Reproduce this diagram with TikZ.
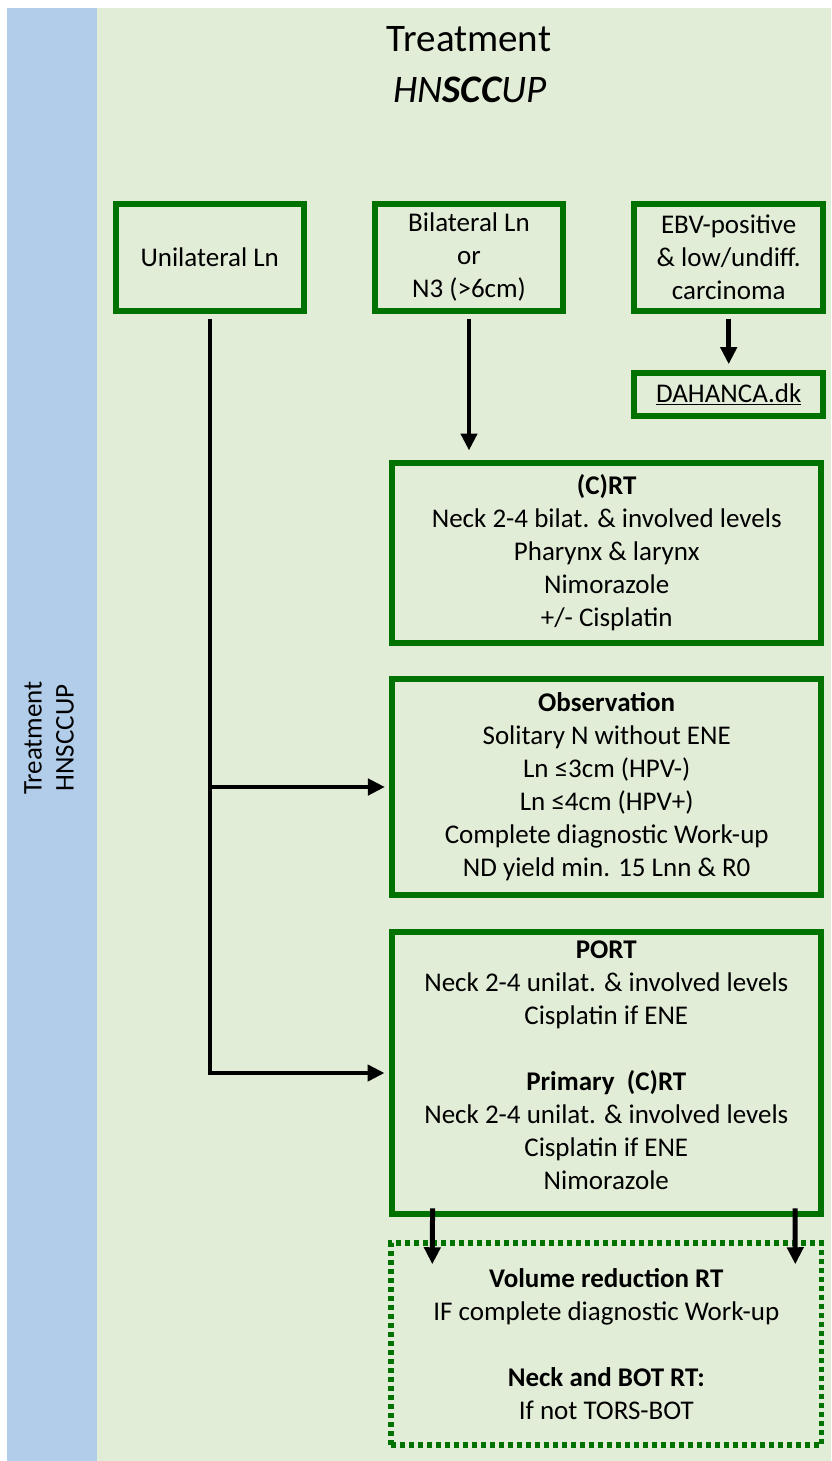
\documentclass[tikz,border=0pt]{standalone}
\usepackage{fontspec}
\setmainfont{Carlito}
\usetikzlibrary{arrows.meta,calc}
\definecolor{panelgreen}{HTML}{E2EDD8}
\definecolor{panelblue}{HTML}{B1CDE9}
\definecolor{boxgreen}{HTML}{007200}
\tikzset{
  box/.style={draw=boxgreen, line width=6pt, inner sep=0pt, align=center,
    font=\fontsize{27}{33}\selectfont, text=black},
  boxtext/.style={inner sep=0pt, align=center, font=\fontsize{27}{33}\selectfont, text=black},
  dotbox/.style={box, line width=5.5pt, dash pattern=on 5pt off 4pt},
  conn/.style={line width=4.5pt, line join=miter},
  arr/.style={conn, -{Triangle[length=17pt,width=16pt]}},
}
\begin{document}
\begin{tikzpicture}[x=1pt,y=-1pt]
  % page and the two background panels
  \useasboundingbox (0,0) rectangle (831,1461);
  \fill[white] (0,0) rectangle (831,1461);
  \fill[panelblue] (7,8) rectangle (97,1461);
  \fill[panelgreen] (97,8) rectangle (831,1461);

  % titles
  \node[anchor=base, inner sep=0pt, font=\fontsize{39}{47}\selectfont] (ttl) at (469,52) {Treatment};
  \node[anchor=base, inner sep=0pt, font=\fontsize{39}{47}\selectfont] (ttlsub) at (470,103) {\itshape HN\textbf{SCC}UP};
  \node[rotate=90, align=center, inner sep=0pt, font=\fontsize{27}{32}\selectfont] (side) at (49,738) {Treatment\\HNSCCUP};

  % entry boxes
  \node[box, minimum width=187.5pt, minimum height=107pt] (uni) at (209.75,257) {Unilateral Ln};
  \node[box, minimum width=188.5pt, minimum height=107pt] (bil) at (469,257) {Bilateral Ln\\or\\N3 (>6cm)};
  \node[box, minimum width=189.5pt, minimum height=107pt] (ebv) at (728.7,257) {EBV-positive\\\& low/undiff.\\carcinoma};
  \node[box, minimum width=189.5pt, minimum height=43pt] (dah) at (728.7,394.7) {\underline{DAHANCA.dk}};

  % treatment boxes
  \node[box, minimum width=429.5pt, minimum height=180pt] (crt) at (606.7,552.5)
    {\textbf{(C)RT}\\Neck 2-4 bilat. \& involved levels\\Pharynx \& larynx\\Nimorazole\\+/- Cisplatin};
  \node[box, minimum width=429.5pt, minimum height=215.5pt] (obs) at (606.7,787)
    {\textbf{Observation}\\Solitary N without ENE\\Ln ≤3cm (HPV-)\\Ln ≤4cm (HPV+)\\Complete diagnostic Work-up\\ND yield min. 15 Lnn \& R0};
  \node[box, minimum width=429.5pt, minimum height=282.5pt] (port) at (606.3,1073) {};
  \node[boxtext] (porttxt) at ([yshift=8pt]port.center)
    {\textbf{PORT}\\Neck 2-4 unilat. \& involved levels\\Cisplatin if ENE\\[33pt]
     \textbf{Primary~ (C)RT}\\Neck 2-4 unilat. \& involved levels\\Cisplatin if ENE\\Nimorazole};
  \node[dotbox, minimum width=430.5pt, minimum height=202pt] (dot) at (606.3,1344)
    {\textbf{Volume reduction RT}\\IF complete diagnostic Work-up\\[33pt]
     \textbf{Neck and BOT RT:}\\If not TORS-BOT};

  % connectors
  \draw[arr, shorten >=4pt] ([yshift=-5pt]uni.south) -- (uni.south |- port.west) -- (port.west);
  \draw[arr, shorten >=4pt] (uni.south |- obs.west) -- (obs.west);
  \draw[arr] ([yshift=-5pt]bil.south) -- ([yshift=9pt]bil.south |- crt.north);
  \draw[arr] ([yshift=-5pt]ebv.south) -- ([yshift=6pt]ebv.south |- dah.north);
  \draw[arr, line width=5pt] ($(port.south west)+(44,-9)$) -- ($(dot.north west)+(44,24)$);
  \draw[arr, line width=5pt] ($(port.south east)+(-29,-9)$) -- ($(dot.north east)+(-29,24)$);
\end{tikzpicture}
\end{document}
